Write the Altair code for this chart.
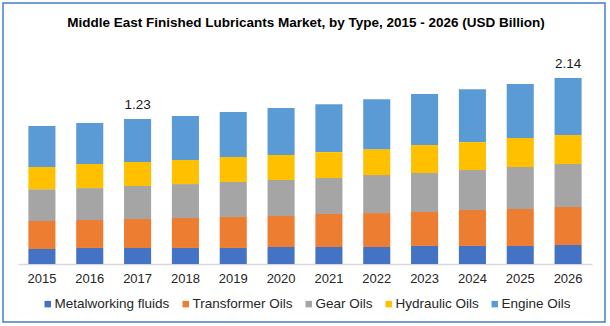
import altair as alt
import pandas as pd

title_text = "Middle East Finished Lubricants Market, by Type, 2015 - 2026 (USD Billion)"
years = ["2015", "2016", "2017", "2018", "2019", "2020", "2021", "2022", "2023", "2024", "2025", "2026"]
series = ["Metalworking fluids", "Transformer Oils", "Gear Oils", "Hydraulic Oils", "Engine Oils"]
colors = ["#4472C4", "#ED7D31", "#A5A5A5", "#FFC000", "#5B9BD5"]

metalworking = [0.127, 0.136, 0.136, 0.136, 0.136, 0.144, 0.144, 0.144, 0.153, 0.153, 0.153, 0.161]
transformer = [0.237, 0.237, 0.246, 0.254, 0.263, 0.263, 0.280, 0.288, 0.288, 0.305, 0.314, 0.322]
gear = [0.271, 0.271, 0.280, 0.288, 0.297, 0.305, 0.305, 0.322, 0.331, 0.339, 0.356, 0.365]
hydraulic = [0.187, 0.204, 0.204, 0.204, 0.212, 0.212, 0.220, 0.220, 0.237, 0.237, 0.246, 0.246]
engine = [0.348, 0.348, 0.365, 0.373, 0.382, 0.399, 0.407, 0.424, 0.432, 0.449, 0.458, 0.483]

label_years = ["2017", "2026"]
label_texts = ["1.23", "2.14"]

values = [metalworking, transformer, gear, hydraulic, engine]
rows = []
for si, (name, vals) in enumerate(zip(series, values)):
    for y, v in zip(years, vals):
        rows.append({"year": y, "type": name, "value": v, "idx": si})
df = pd.DataFrame(rows)

totals = pd.DataFrame({
    "year": years,
    "total": [sum(v[i] for v in values) for i in range(len(years))],
})
lab = totals[totals["year"].isin(label_years)].copy()
lab["text"] = [label_texts[label_years.index(y)] for y in lab["year"]]

FONT = "Liberation Sans"

x_enc = alt.X("year:N", sort=years, title=None,
              scale=alt.Scale(paddingInner=0.434, paddingOuter=0.217),
              axis=alt.Axis(labelAngle=0, ticks=False, domainColor="#d9d9d9", domainWidth=1.3,
                            labelFont=FONT, labelFontSize=13, labelColor="#262626",
                            labelPadding=8))
y_scale = alt.Scale(domain=[0, 1.7983], nice=False, zero=True)

bars = alt.Chart(df).mark_bar().encode(
    x=x_enc,
    y=alt.Y("value:Q", stack="zero", scale=y_scale, axis=None),
    color=alt.Color("type:N", scale=alt.Scale(domain=series, range=colors),
                    legend=alt.Legend(title=None, orient="none", direction="horizontal",
                                      legendX=23, legendY=245,
                                      symbolType="square", symbolSize=42, symbolStrokeWidth=0,
                                      labelFont=FONT, labelFontSize=13.5, labelColor="#262626",
                                      labelOffset=0, columnPadding=9)),
    order=alt.Order("idx:Q", sort="ascending"),
)

text = alt.Chart(lab).mark_text(font=FONT, fontSize=13.5, color="#1a1a1a", baseline="alphabetic", dy=-10).encode(
    x=alt.X("year:N", sort=years),
    y=alt.Y("total:Q", scale=y_scale),
    text="text:N",
)

title = alt.Chart(pd.DataFrame({"t": [title_text]})).mark_text(
    font="Liberation Sans Narrow, Arial Narrow, Liberation Sans", fontWeight="bold",
    fontSize=13.5, color="#000000", align="center", baseline="alphabetic"
).encode(x=alt.value(288), y=alt.value(-25), text="t:N")

border = alt.Chart(pd.DataFrame({"a": [0]})).mark_rect(
    fill=None, stroke="#4a7cc6", strokeWidth=1.5
).encode(
    x=alt.value(-15), x2=alt.value(587), y=alt.value(-49), y2=alt.value(270)
)

chart = alt.layer(bars, text, title, border).properties(
    width=574, height=212,
    autosize=alt.AutoSizeParams(type="none"),
    padding={"left": 18, "top": 52, "right": 18, "bottom": 62},
).configure_view(strokeWidth=0)

chart.save("out.html", embed_options={"renderer": "svg", "actions": False})
